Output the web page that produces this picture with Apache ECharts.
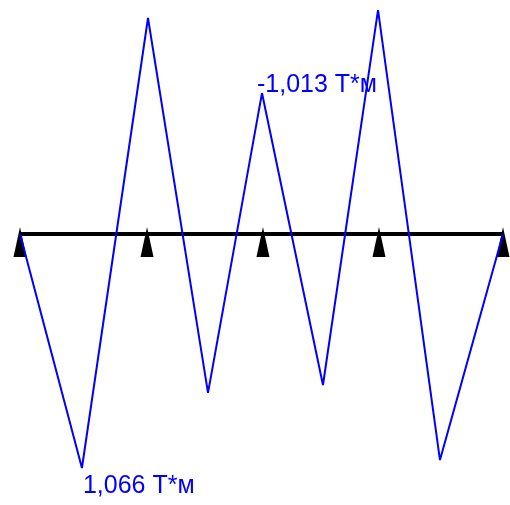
<!DOCTYPE html>
<html>
<head>
<meta charset="utf-8">
<script src="https://cdn.jsdelivr.net/npm/echarts@6/dist/echarts.min.js"></script>
<style>
  html, body { margin: 0; padding: 0; background: #fff; }
  #chart { width: 510px; height: 505px; }
</style>
</head>
<body>
<div id="chart"></div>
<script>
// beam length 4 m, supports positions (m)
var supportX = [0, 1.052, 2.012, 2.973, 4.0];
// moment diagram vertices: position along beam (m) and moment (T*m, drawn downward positive)
var momentX = [0, 0.513, 1.06, 1.557, 2.004, 2.509, 2.965, 3.478, 4.0];
var momentY = [0, 1.066, -0.984, 0.724, -0.642, 0.688, -1.02, 1.03, 0];
// labelled vertices: index -> text
var labelIdx = [1, 4];
var labelText = ["1,066 T*м", "-1,013 T*м"];

var chart = echarts.init(document.getElementById("chart"), null, { renderer: "canvas" });

var momentData = momentX.map(function (x, i) {
  var item = { value: [x, momentY[i]] };
  var k = labelIdx.indexOf(i);
  if (k >= 0) {
    item.label = {
      show: true,
      formatter: labelText[k],
      position: "inside",
      align: "left",
      verticalAlign: "middle",
      offset: k === 0 ? [1, 18] : [-5, -8],
    };
  }
  return item;
});

var option = {
  animation: false,
  backgroundColor: "#fff",
  grid: { left: 20, right: 7, top: 0, bottom: 0 },
  xAxis: { type: "value", min: 0, max: 4, show: false },
  yAxis: { type: "value", min: -1.066, max: 1.2346, inverse: true, show: false },
  series: [
    {
      // supports
      type: "scatter",
      z: 1,
      symbol: "triangle",
      symbolSize: [13, 30],
      symbolOffset: [0, 8],
      itemStyle: { color: "#000", opacity: 1 },
      data: supportX.map(function (x) { return [x, 0]; }),
    },
    {
      // beam
      type: "line",
      z: 2,
      symbol: "none",
      lineStyle: { color: "#000", width: 4 },
      data: [[supportX[0], 0], [supportX[supportX.length - 1], 0]],
    },
    {
      // moment diagram
      type: "line",
      z: 3,
      showSymbol: true,
      symbol: "circle",
      symbolSize: 0,
      lineStyle: { color: "#0000ff", width: 2 },
      itemStyle: { color: "#0000ff" },
      label: {
        color: "#0000ff",
        fontFamily: "Liberation Sans",
        fontSize: 25,
      },
      data: momentData,
    },
  ],
};
chart.setOption(option);
</script>
</body>
</html>
